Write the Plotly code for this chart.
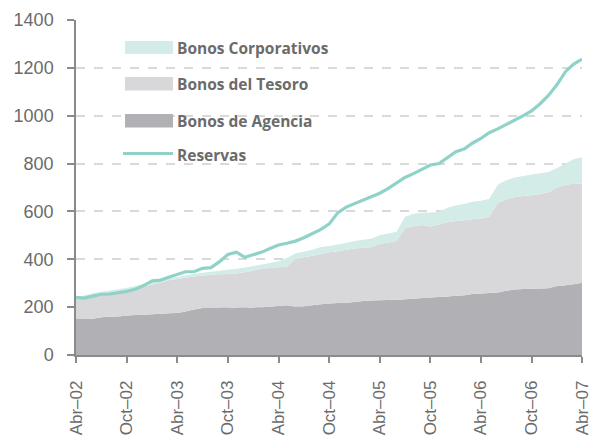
import plotly.graph_objects as go
import pandas as pd

# Monthly, Apr-2002 .. Apr-2007
months = pd.date_range("2002-04-01", "2007-04-01", freq="MS").strftime("%Y-%m-%d").tolist()

agencia = [150, 150, 152, 158, 160, 161, 165, 167, 168, 170, 172, 174, 176, 182, 190, 196,
           198, 198, 198, 198, 198, 199, 200, 202, 205, 208, 202, 204, 208, 212, 215, 217,
           218, 222, 226, 228, 229, 230, 231, 233, 235, 238, 240, 242, 245, 248, 250, 255,
           257, 259, 261, 268, 274, 276, 277, 278, 279, 288, 292, 296, 302]

tesoro_top = [234, 240, 246, 252, 256, 261, 268, 276, 286, 295, 303, 312, 318, 323, 328, 332,
              335, 337, 339, 341, 346, 353, 361, 364, 367, 370, 400, 408, 415, 422, 429, 434,
              440, 445, 448, 450, 465, 470, 476, 530, 538, 543, 537, 545, 555, 560, 563, 567,
              570, 578, 635, 650, 660, 665, 668, 673, 680, 700, 712, 716, 717]

corp_top = [240, 250, 258, 264, 270, 275, 281, 288, 298, 305, 312, 320, 326, 332, 338, 344,
            348, 352, 356, 360, 366, 372, 378, 385, 392, 405, 425, 432, 440, 451, 456, 462,
            468, 476, 482, 486, 500, 508, 515, 578, 590, 594, 596, 598, 615, 625, 632, 640,
            645, 652, 712, 730, 742, 748, 754, 760, 765, 782, 800, 818, 826]

reservas = [241, 238, 246, 254, 255, 260, 266, 275, 290, 310, 313, 325, 338, 348, 348, 362,
            365, 390, 420, 430, 408, 420, 430, 445, 460, 467, 476, 490, 506, 525, 548, 595,
            618, 632, 648, 662, 676, 695, 720, 742, 758, 775, 794, 800, 825, 850, 862, 885,
            905, 929, 945, 962, 980, 1000, 1020, 1050, 1085, 1130, 1185, 1215, 1236]

tesoro = [t - a for t, a in zip(tesoro_top, agencia)]
corporativos = [max(c - t, 0) for c, t in zip(corp_top, tesoro_top)]

tick_vals = months[::6]
tick_text = ["Abr–02", "Oct–02", "Abr–03", "Oct–03", "Abr–04", "Oct–04",
             "Abr–05", "Oct–05", "Abr–06", "Oct–06", "Abr–07"]
y_ticks = [0, 200, 400, 600, 800, 1000, 1200, 1400]

legend_labels = ["Bonos Corporativos", "Bonos del Tesoro", "Bonos de Agencia", "Reservas"]

C_CORP = "#d3ece7"
C_TES = "#d8d8da"
C_AGE = "#b1b0b4"
C_RES = "#8fd3c8"
C_TEXT = "#6b6b6b"

fig = go.Figure()
fig.add_trace(go.Scatter(x=months, y=agencia, stackgroup="one", mode="none",
                         fillcolor=C_AGE, name=legend_labels[2], showlegend=False))
fig.add_trace(go.Scatter(x=months, y=tesoro, stackgroup="one", mode="none",
                         fillcolor=C_TES, name=legend_labels[1], showlegend=False))
fig.add_trace(go.Scatter(x=months, y=corporativos, stackgroup="one", mode="none",
                         fillcolor=C_CORP, name=legend_labels[0], showlegend=False))
fig.add_trace(go.Scatter(x=months, y=reservas, mode="lines",
                         line=dict(color=C_RES, width=3.2), name=legend_labels[3],
                         showlegend=False))

W, H = 592, 437
L, R, T, B = 76, 10, 20, 82
pw, ph = W - L - R, H - T - B


def px(x):
    return (x - L) / pw


def py(y):
    return (H - B - y) / ph


shapes = []
# hide top gridline
shapes.append(dict(type="line", xref="paper", yref="paper", x0=0.005, x1=1, y0=1, y1=1,
                   line=dict(color="white", width=3), layer="between"))
# white legend box covering grid
shapes.append(dict(type="rect", xref="paper", yref="paper", x0=px(105), x1=px(360),
                   y0=py(175), y1=py(25), fillcolor="white", line=dict(width=0), layer="between"))
# legend swatches
sw = [(C_CORP, 41, 54), (C_TES, 77, 90.5), (C_AGE, 114, 127.5)]
for col, y0, y1 in sw:
    shapes.append(dict(type="rect", xref="paper", yref="paper", x0=px(125), x1=px(173),
                       y0=py(y1), y1=py(y0), fillcolor=col, line=dict(width=0), layer="above"))
shapes.append(dict(type="line", xref="paper", yref="paper", x0=px(123), x1=px(173),
                   y0=py(153.5), y1=py(153.5), line=dict(color=C_RES, width=3), layer="above"))

annotations = []
for lab, yc in zip(legend_labels, [48, 84, 121, 155]):
    annotations.append(dict(text="<b>" + lab + "</b>", xref="paper", yref="paper",
                            x=px(175), y=py(yc), xanchor="left", yanchor="middle",
                            showarrow=False, font=dict(family="Open Sans", size=15.5, color=C_TEXT)))

fig.update_layout(
    width=W, height=H,
    margin=dict(l=L, r=R, t=T, b=B, autoexpand=False),
    paper_bgcolor="white", plot_bgcolor="white",
    shapes=shapes, annotations=annotations,
    showlegend=False,
    xaxis=dict(range=[months[0], months[-1]], tickmode="array", tickvals=tick_vals,
               ticktext=tick_text, tickangle=-90, showgrid=False, showline=True,
               linecolor="#8a8a8a", linewidth=1.5, ticks="outside", ticklen=6,
               tickcolor="#8a8a8a", tickwidth=1.5, ticklabelstandoff=11, automargin=False,
               tickfont=dict(family="Liberation Sans", size=17, color=C_TEXT), zeroline=False),
    yaxis=dict(range=[0, 1400], tickmode="array", tickvals=y_ticks, showgrid=True,
               gridcolor="#d9d9d9", griddash="dash", gridwidth=1.5, showline=True,
               linecolor="#8a8a8a", linewidth=1.5, ticks="outside", ticklen=7,
               tickcolor="#8a8a8a", tickwidth=1.5, ticklabelstandoff=10, automargin=False,
               tickfont=dict(family="Liberation Sans", size=18, color=C_TEXT), zeroline=False),
)

fig.write_html("out.html", config={"displayModeBar": False},
               post_script="document.body.style.margin='0';")
